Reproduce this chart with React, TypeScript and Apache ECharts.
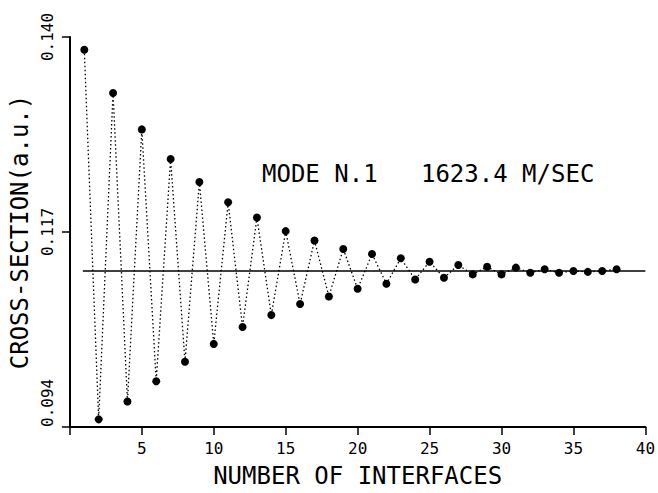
import React, { useEffect, useRef } from "react";
import * as echarts from "echarts";

const interfaces = [1, 2, 3, 4, 5, 6, 7, 8, 9, 10, 11, 12, 13, 14, 15, 16, 17, 18, 19, 20, 21, 22, 23, 24, 25, 26, 27, 28, 29, 30, 31, 32, 33, 34, 35, 36, 37, 38];
const crossSection = [
  0.1385, 0.0949, 0.1334, 0.097, 0.1291, 0.0994, 0.1256, 0.1017, 0.1229, 0.1038,
  0.1205, 0.1058, 0.1187, 0.1072, 0.1171, 0.1085, 0.116, 0.1094, 0.115, 0.1103,
  0.1144, 0.1109, 0.1139, 0.1114, 0.1135, 0.1116, 0.1131, 0.112, 0.1129, 0.112,
  0.1128, 0.1122, 0.1126, 0.1122, 0.1124, 0.1123, 0.1124, 0.1126,
];
const meanLevel = 0.1124;
const meanSpan = [0.9, 40];
const xTicks = { min: 0, max: 40, interval: 5 };
const yTicks = { min: 0.094, max: 0.14, interval: 0.023 };
const annotation = "MODE N.1   1623.4 M/SEC";
const xTitle = "NUMBER OF INTERFACES";
const yTitle = "CROSS-SECTION(a.u.)";

const FONT = "'DejaVu Sans Mono', monospace";

export default function App() {
  const ref = useRef<HTMLDivElement>(null);
  useEffect(() => {
    document.body.style.margin = "0";
    const chart = echarts.init(ref.current!, null, { renderer: "svg" });
    chart.setOption({
      animation: false,
      backgroundColor: "#fff",
      grid: { left: 69, right: 11, top: 37, bottom: 65, containLabel: false },
      xAxis: {
        type: "value",
        min: xTicks.min,
        max: xTicks.max,
        interval: xTicks.interval,
        name: xTitle,
        nameLocation: "middle",
        nameGap: 37,
        nameTextStyle: { fontFamily: FONT, fontSize: 24, color: "#000" },
        axisLine: { show: true, onZero: false, lineStyle: { color: "#000", width: 2 } },
        axisTick: { show: true, inside: false, length: 8, lineStyle: { color: "#000", width: 1.5 } },
        axisLabel: {
          margin: 13,
          fontFamily: FONT,
          fontSize: 16,
          color: "#000",
          formatter: (v: number) => (v === 0 ? "" : String(v)),
        },
        splitLine: { show: false },
      },
      yAxis: {
        type: "value",
        min: yTicks.min,
        max: yTicks.max,
        interval: yTicks.interval,
        name: yTitle,
        nameLocation: "middle",
        nameGap: 36,
        nameRotate: 90,
        nameTextStyle: { fontFamily: FONT, fontSize: 24, color: "#000" },
        axisLine: { show: true, onZero: false, lineStyle: { color: "#000", width: 2 } },
        axisTick: { show: true, inside: false, length: 8, lineStyle: { color: "#000", width: 1.5 } },
        axisLabel: {
          rotate: 90,
          margin: 14,
          fontFamily: FONT,
          fontSize: 16,
          color: "#000",
          alignMinLabel: "left",
          formatter: (v: number) => v.toFixed(3),
        },
        splitLine: { show: false },
      },
      graphic: [
        {
          type: "text",
          left: 262,
          top: 162,
          style: {
            text: annotation,
            font: `24px ${FONT}`,
            fill: "#000",
          },
        },
      ],
      series: [
        {
          type: "line",
          data: meanSpan.map((x) => [x, meanLevel]),
          symbol: "none",
          lineStyle: { color: "#000", width: 1.6 },
          z: 1,
        },
        {
          type: "line",
          data: interfaces.map((n, i) => [n, crossSection[i]]),
          symbol: "circle",
          symbolSize: 8,
          itemStyle: { color: "#000" },
          lineStyle: { color: "#000", width: 1.3, type: [1.5, 2.5] },
          z: 2,
        },
      ],
    });
    return () => chart.dispose();
  }, []);
  return <div ref={ref} style={{ width: 658, height: 493 }} />;
}
